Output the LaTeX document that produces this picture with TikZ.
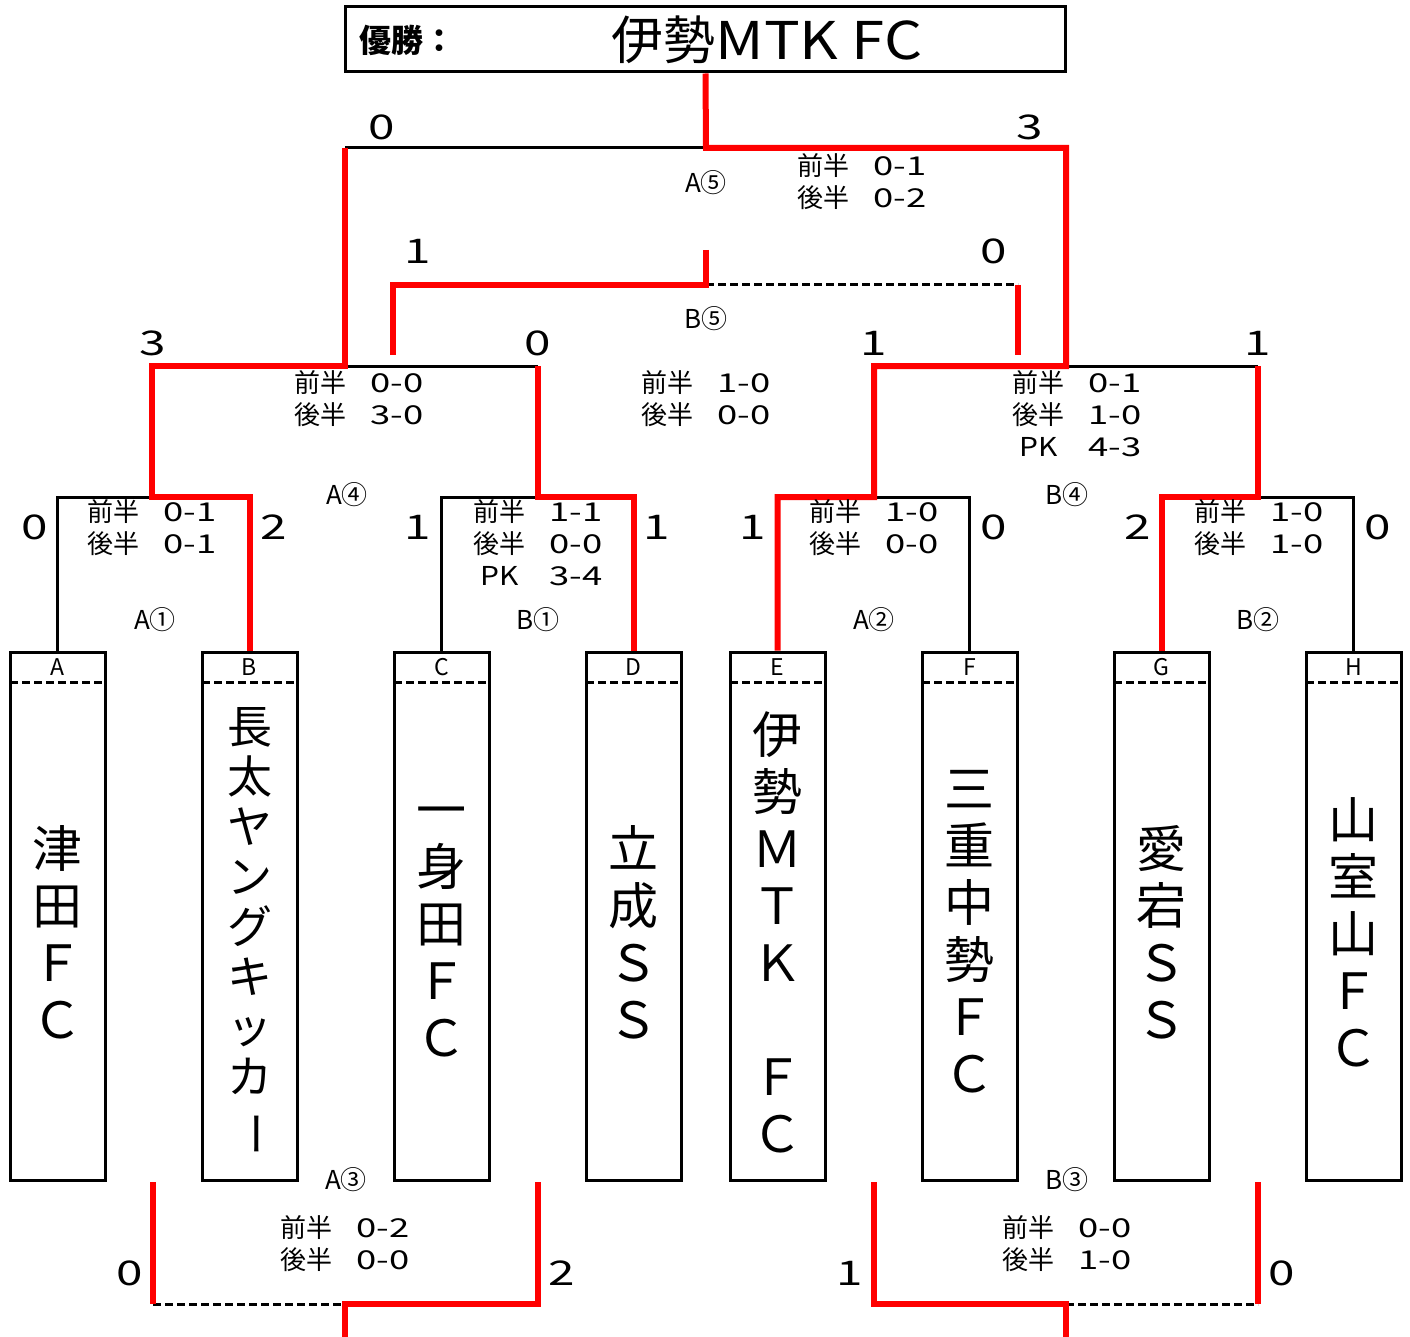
\documentclass[tikz,border=0pt]{standalone}
\usepackage{fontspec}
\usepackage{graphicx}
\setmainfont{Noto Sans CJK JP}
\newfontfamily\numfont[FakeStretch=1.4]{Noto Sans CJK JP}
\newfontfamily\latinfont[FakeStretch=1.15]{Noto Sans CJK JP}
\usetikzlibrary{calc,positioning}

\tikzset{
  win/.style={draw=red, line width=6pt},
  loss/.style={draw=black, line width=3pt},
  tbd/.style={draw=black, line width=3pt, dash pattern=on 8pt off 4pt},
  teambox/.style={draw, line width=3pt, minimum width=95pt, minimum height=528pt, inner sep=0pt},
  teamname/.style={font=\fontsize{50}{57}\selectfont, align=center, inner sep=0pt},
  slot/.style={font=\fontsize{23}{23}\selectfont, inner sep=0pt},
  goals/.style={font=\numfont\fontsize{34}{34}\selectfont, inner sep=0pt},
  halves/.style={font=\fontsize{26}{32}\selectfont, inner sep=0pt, anchor=north},
  matchno/.style={font=\fontsize{26}{26}\selectfont, inner sep=0pt},
}
\newcommand{\scoreline}[2]{\begin{tabular}{@{}c@{\hspace{24pt}}c@{}}前半 & {\numfont #1}\\ 後半 & {\numfont #2}\end{tabular}}
\newcommand{\scorelinepk}[3]{\begin{tabular}{@{}c@{\hspace{24pt}}c@{}}前半 & {\numfont #1}\\ 後半 & {\numfont #2}\\ {\latinfont PK} & {\numfont #3}\end{tabular}}

\begin{document}
\begin{tikzpicture}[x=1pt, y=-1pt]
		%%%%% START %%%%%
		\useasboundingbox (0,0) rectangle (1410,1337);
		
		% champion
		\node[draw, line width=3pt, minimum width=720pt, minimum height=65pt, inner sep=0pt] (champ) at (705.5,39.5) {};
		\node[font=\fontsize{32}{32}\selectfont\bfseries] (champlbl) at (407,40) {優勝：};
		\node[font=\fontsize{52}{52}\selectfont] (champname) at (767,40) {伊勢{\latinfont MTK FC}};
		
		% teams
		\node[teambox] (tA) at (57.5,916) {};
		\node[teambox] (tB) at (249.5,916) {};
		\node[teambox] (tC) at (441.5,916) {};
		\node[teambox] (tD) at (633.5,916) {};
		\node[teambox] (tE) at (777.5,916) {};
		\node[teambox] (tF) at (969.5,916) {};
		\node[teambox] (tG) at (1161.5,916) {};
		\node[teambox] (tH) at (1353.5,916) {};
		
		\node[slot] (hA) at (57.5,667) {A};
		\node[slot] (hB) at (249.5,667) {B};
		\node[slot] (hC) at (441.5,667) {C};
		\node[slot] (hD) at (633.5,667) {D};
		\node[slot] (hE) at (777.5,667) {E};
		\node[slot] (hF) at (969.5,667) {F};
		\node[slot] (hG) at (1161.5,667) {G};
		\node[slot] (hH) at (1353.5,667) {H};
		
		\draw[tbd] ($(tA.north west)+(1.5,32)$) -- ($(tA.north east)+(-1.5,32)$);
		\draw[tbd] ($(tB.north west)+(1.5,32)$) -- ($(tB.north east)+(-1.5,32)$);
		\draw[tbd] ($(tC.north west)+(1.5,32)$) -- ($(tC.north east)+(-1.5,32)$);
		\draw[tbd] ($(tD.north west)+(1.5,32)$) -- ($(tD.north east)+(-1.5,32)$);
		\draw[tbd] ($(tE.north west)+(1.5,32)$) -- ($(tE.north east)+(-1.5,32)$);
		\draw[tbd] ($(tF.north west)+(1.5,32)$) -- ($(tF.north east)+(-1.5,32)$);
		\draw[tbd] ($(tG.north west)+(1.5,32)$) -- ($(tG.north east)+(-1.5,32)$);
		\draw[tbd] ($(tH.north west)+(1.5,32)$) -- ($(tH.north east)+(-1.5,32)$);
		
		\node[teamname] (nA) at (57.5,932) {津\\田\\Ｆ\\Ｃ};
		\node[teamname, font=\fontsize{45}{50}\selectfont] (nB) at (249.5,932) {長\\太\\ヤ\\ン\\グ\\キ\\ッ\\カ\\\rotatebox[origin=c]{-90}{ー}};
		\node[teamname] (nC) at (441.5,932) {一\\身\\田\\Ｆ\\Ｃ};
		\node[teamname] (nD) at (633.5,932) {立\\成\\Ｓ\\Ｓ};
		\node[teamname] (nE) at (777.5,932) {伊\\勢\\Ｍ\\Ｔ\\Ｋ\\　\\Ｆ\\Ｃ};
		\node[teamname] (nF) at (969.5,932) {三\\重\\中\\勢\\Ｆ\\Ｃ};
		\node[teamname] (nG) at (1161.5,932) {愛\\宕\\Ｓ\\Ｓ};
		\node[teamname] (nH) at (1353.5,932) {山\\室\\山\\Ｆ\\Ｃ};
		
		% junctions
		\coordinate (a1) at (152,497);
		\coordinate (b1) at (538,497);
		\coordinate (a2) at (874,497);
		\coordinate (b2) at (1258,497);
		\coordinate (a4) at (345,366);
		\coordinate (b4) at (1066,366);
		\coordinate (a5) at (706,148);
		\coordinate (b5top) at (706,250);
		\coordinate (b5) at (706,285);
		\coordinate (b5l) at (393,355);
		\coordinate (b5r) at (1018,355);
		\coordinate (a3l) at (153,1182);
		\coordinate (a3r) at (538,1182);
		\coordinate (a3) at (345,1304);
		\coordinate (a3bot) at (345,1337);
		\coordinate (b3l) at (874,1182);
		\coordinate (b3r) at (1258,1182);
		\coordinate (b3) at (1066,1304);
		\coordinate (b3bot) at (1066,1337);
		
		% lost
		\draw[loss] (tA.north) |- (a1);
		\draw[loss] (tC.north) |- (b1);
		\draw[loss] (tF.north) |- (a2);
		\draw[loss] (tH.north) |- (b2);
		\draw[loss] (a4) -- (b1 |- a4);
		\draw[loss] (b4) -- (b2 |- b4);
		\draw[loss] (a4 |- a5) -- (a5);
		\draw[tbd] (b5) -- (b5r |- b5);
		\draw[tbd] (a3l |- a3) -- (a3);
		\draw[tbd] (b3) -- (b3r |- b3);
		
		% won
		\draw[win] (tB.north) |- (a1) |- (a4) -- (a4 |- a5);
		\draw[win] (tD.north) |- (b1) -- (b1 |- a4);
		\draw[win] (tE.north) |- (a2) |- (b4) |- (a5) -- (champ.south);
		\draw[win] (tG.north) |- (b2) -- (b2 |- b4);
		\draw[win] (b5top) -- (b5) -| (b5l);
		\draw[win] (b5r |- b5) -- (b5r);
		\draw[win] (a3l) -- (a3l |- a3);
		\draw[win] (a3bot) -- (a3) -| (a3r);
		\draw[win] (b3l) |- (b3) -- (b3bot);
		\draw[win] (b3r) -- (b3r |- b3);
		
		% match numbers
		\node[matchno] (mA1) at (155,620) {A①};
		\node[matchno] (mB1) at (538,620) {B①};
		\node[matchno] (mA2) at (874,620) {A②};
		\node[matchno] (mB2) at (1258,620) {B②};
		\node[matchno] (mA4) at (347,495) {A④};
		\node[matchno] (mB4) at (1067,495) {B④};
		\node[matchno] (mA5) at (706,183) {A⑤};
		\node[matchno] (mB5) at (706,319) {B⑤};
		\node[matchno] (mA3) at (346,1180) {A③};
		\node[matchno] (mB3) at (1067,1180) {B③};
		
		% halves
		\node[halves] (sA1) at (152,499) {\scoreline{0-1}{0-1}};
		\node[halves] (sB1) at (538,499) {\scorelinepk{1-1}{0-0}{3-4}};
		\node[halves] (sA2) at (874,499) {\scoreline{1-0}{0-0}};
		\node[halves] (sB2) at (1259,499) {\scoreline{1-0}{1-0}};
		\node[halves] (sA4) at (359,370) {\scoreline{0-0}{3-0}};
		\node[halves] (sB5) at (706,370) {\scoreline{1-0}{0-0}};
		\node[halves] (sB4) at (1077,370) {\scorelinepk{0-1}{1-0}{4-3}};
		\node[halves] (sA5) at (862,153) {\scoreline{0-1}{0-2}};
		\node[halves] (sA3) at (345,1215) {\scoreline{0-2}{0-0}};
		\node[halves] (sB3) at (1067,1215) {\scoreline{0-0}{1-0}};
		
		% goals
		\node[goals] (gA1l) at (35,527) {0};
		\node[goals] (gA1r) at (274,527) {2};
		\node[goals] (gB1l) at (418,527) {1};
		\node[goals] (gB1r) at (657,527) {1};
		\node[goals] (gA2l) at (753,527) {1};
		\node[goals] (gA2r) at (994,527) {0};
		\node[goals] (gB2l) at (1138,527) {2};
		\node[goals] (gB2r) at (1378,527) {0};
		\node[goals] (gA4l) at (153,343) {3};
		\node[goals] (gA4r) at (538,343) {0};
		\node[goals] (gB4l) at (874,343) {1};
		\node[goals] (gB4r) at (1258,343) {1};
		\node[goals] (gA5l) at (382,127) {0};
		\node[goals] (gA5r) at (1030,127) {3};
		\node[goals] (gB5l) at (418,251) {1};
		\node[goals] (gB5r) at (994,251) {0};
		\node[goals] (gA3l) at (130,1273) {0};
		\node[goals] (gA3r) at (562,1273) {2};
		\node[goals] (gB3l) at (850,1273) {1};
		\node[goals] (gB3r) at (1282,1273) {0};
		
		%%%%% END %%%%%
\end{tikzpicture}
\end{document}
